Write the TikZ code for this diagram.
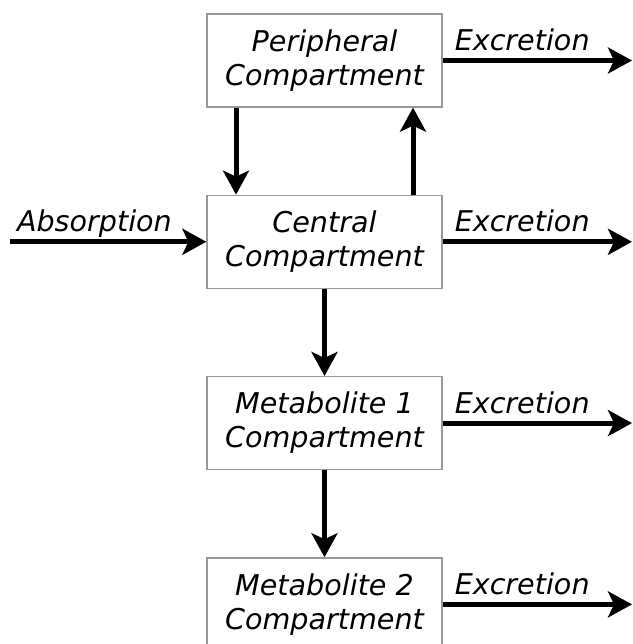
\documentclass[tikz,border=0pt]{standalone}
\usepackage{fontspec}
\setmainfont{DejaVu Sans}
\usetikzlibrary{
	positioning,
	arrows.meta
}

\begin{document}
\begin{tikzpicture}[
		x=1pt,y=1pt,
		node distance=87pt,
		comp/.style={draw=black!40,line width=1.3pt,fill=white,
			minimum width=235pt,minimum height=93pt,inner sep=0pt,
			align=center,font=\fontsize{28.6}{34}\selectfont\itshape},
		flow/.style={-{Stealth[length=24pt,width=26pt,inset=6pt]},line width=5pt},
		lbl/.style={font=\fontsize{28.6}{34}\selectfont\itshape,anchor=base,yshift=10pt,inner sep=0pt}
	]
		\useasboundingbox (0,0) rectangle (632,644);

		\draw
			node[comp] at (324.5,583.5) (per)  {Peripheral\\Compartment}
			node[comp,below=of per]      (cen)  {Central\\Compartment}
			node[comp,below=of cen]      (met1) {Metabolite 1\\Compartment}
			node[comp,below=of met1]     (met2) {Metabolite 2\\Compartment}
		;

		% free ends of the inflow and outflows
		\coordinate (abs) at (10,0 |- cen.west);
		\coordinate (ex0) at (632,0 |- per.east);
		\coordinate (ex1) at (632,0 |- cen.east);
		\coordinate (ex2) at (632,0 |- met1.east);
		\coordinate (ex3) at (632,0 |- met2.east);

		\draw[flow] (abs) -- node[lbl,pos=0.43] {Absorption} (cen.west);
		\draw[flow] (per.east)  -- node[lbl,pos=0.42] {Excretion} (ex0);
		\draw[flow] (cen.east)  -- node[lbl,pos=0.42] {Excretion} (ex1);
		\draw[flow] (met1.east) -- node[lbl,pos=0.42] {Excretion} (ex2);
		\draw[flow] (met2.east) -- node[lbl,pos=0.42] {Excretion} (ex3);

		\draw[flow] ([xshift=-88.5pt]per.south) -- ([xshift=-88.5pt]cen.north);
		\draw[flow] ([xshift=88.5pt]cen.north)  -- ([xshift=88.5pt]per.south);
		\draw[flow] (cen.south)  -- (met1.north);
		\draw[flow] (met1.south) -- (met2.north);
	\end{tikzpicture}
\end{document}
